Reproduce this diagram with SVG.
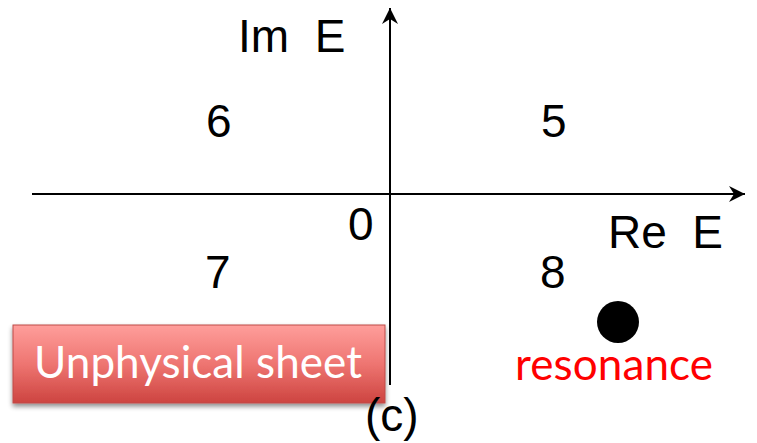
<svg xmlns="http://www.w3.org/2000/svg" width="757" height="443" viewBox="0 0 757 443">
  <style>
    .ax { font-family: "Liberation Sans", Arial, sans-serif; font-size: 46px; fill: #000; white-space: pre; }
    .cal { font-family: Lato, "Open Sans", sans-serif; font-size: 44px; }
    .axis { stroke: #000; stroke-width: 2; fill: none; }
  </style>
  <defs>
    <marker id="arrow" markerUnits="userSpaceOnUse" markerWidth="20" markerHeight="20" viewBox="-16 -10 18 20" refX="0" refY="0" orient="auto">
      <path d="M0,0 L-16,-8 L-11,0 L-16,8 Z" fill="#000"/>
    </marker>
    <linearGradient id="boxGrad" x1="0" y1="0" x2="0" y2="1">
      <stop offset="0" stop-color="#FF9E9B"/>
      <stop offset="0.5" stop-color="#EE7571"/>
      <stop offset="1" stop-color="#CD4440"/>
    </linearGradient>
    <filter id="shadow" x="-10%" y="-20%" width="120%" height="150%">
      <feGaussianBlur in="SourceAlpha" stdDeviation="2.5"/>
      <feOffset dx="0" dy="3" result="b"/>
      <feComponentTransfer><feFuncA type="linear" slope="0.45"/></feComponentTransfer>
      <feMerge><feMergeNode/><feMergeNode in="SourceGraphic"/></feMerge>
    </filter>
  </defs>

  <g id="connectors">
    <line class="axis" x1="32" y1="194" x2="745" y2="194" marker-end="url(#arrow)"/>
    <line class="axis" x1="390" y1="385" x2="390" y2="8" marker-end="url(#arrow)"/>
  </g>

  <g id="axis-labels">
    <text class="ax" x="238" y="52">Im  E</text>
    <text class="ax" x="608" y="248">Re  E</text>
    <text class="ax" x="348" y="240">0</text>
  </g>

  <g id="quadrant-labels">
    <text class="ax" x="206" y="137">6</text>
    <text class="ax" x="541" y="137">5</text>
    <text class="ax" x="205" y="288">7</text>
    <text class="ax" x="540" y="288">8</text>
  </g>

  <g id="resonance">
    <circle cx="618" cy="322" r="21" fill="#000"/>
    <text class="cal" x="515" y="380" fill="#FF0000" textLength="198" lengthAdjust="spacing">resonance</text>
  </g>

  <g id="unphysical-sheet">
    <rect x="13" y="325" width="372" height="78" fill="url(#boxGrad)" stroke="#BE4B48" stroke-width="1" filter="url(#shadow)"/>
    <text class="cal" x="34" y="378" fill="#FFFFFF" textLength="328" lengthAdjust="spacing">Unphysical sheet</text>
  </g>

  <g id="caption">
    <text class="ax" x="365" y="431">(c)</text>
  </g>
</svg>
